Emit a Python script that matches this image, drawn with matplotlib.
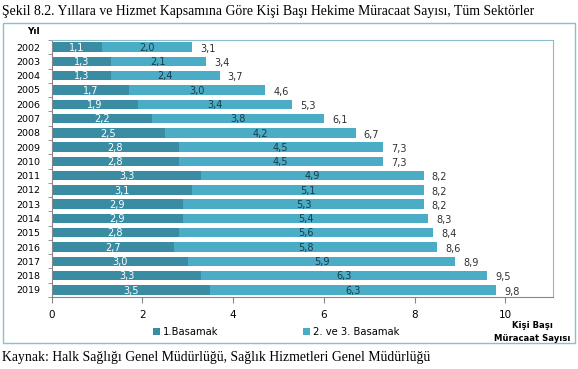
import numpy as np
import matplotlib.pyplot as plt
from matplotlib.patches import Rectangle

years = ['2002', '2003', '2004', '2005', '2006', '2007', '2008', '2009', '2010',
         '2011', '2012', '2013', '2014', '2015', '2016', '2017', '2018', '2019']
basamak1 = [1.1, 1.3, 1.3, 1.7, 1.9, 2.2, 2.5, 2.8, 2.8, 3.3, 3.1, 2.9, 2.9, 2.8, 2.7, 3.0, 3.3, 3.5]
basamak23 = [2.0, 2.1, 2.4, 3.0, 3.4, 3.8, 4.2, 4.5, 4.5, 4.9, 5.1, 5.3, 5.4, 5.6, 5.8, 5.9, 6.3, 6.3]
toplam = [3.1, 3.4, 3.7, 4.6, 5.3, 6.1, 6.7, 7.3, 7.3, 8.2, 8.2, 8.2, 8.3, 8.4, 8.6, 8.9, 9.5, 9.8]
xticks = [0, 2, 4, 6, 8, 10]

dark = '#3A8CA3'
light = '#4BACC6'

def fmt(v):
    return f'{v:.1f}'.replace('.', ',')

fig = plt.figure(figsize=(5.78, 3.69), dpi=100)
W, H = 578, 369

# outer chart frame
fig.patches.append(Rectangle((3 / W, 1 - 343 / H), 572 / W, 320 / H, transform=fig.transFigure,
                             fill=False, edgecolor='#86C0D6', lw=1.0))

ax = fig.add_axes([51.7 / W, 1 - 297 / H, (553 - 51.7) / W, (297 - 40) / H])
y = np.arange(len(years))
b1 = np.array(basamak1)
b2 = np.array(basamak23)
ax.barh(y, b1, height=0.66, color=dark, label='1.Basamak')
ax.barh(y, b2, left=b1, height=0.66, color=light, label='2. ve 3. Basamak')

for i in range(len(years)):
    ax.text(b1[i] / 2, y[i] + 0.05, fmt(basamak1[i]), ha='center', va='center',
            color='white', fontsize=7)
    ax.text(b1[i] + b2[i] / 2, y[i] + 0.05, fmt(basamak23[i]), ha='center', va='center',
            color='#173D4C', fontsize=7)
    ax.text(b1[i] + b2[i] + 0.18, y[i] + 0.12, fmt(toplam[i]), ha='left', va='center',
            color='#303030', fontsize=7)

ax.set_xlim(0, 11.05)
ax.set_ylim(len(years) - 0.5, -0.5)
ax.set_yticks(y)
ax.set_yticklabels(years, fontsize=6.8)
ax.set_yticks(np.arange(len(years) + 1) - 0.5, minor=True)
ax.tick_params(axis='y', which='major', length=0, pad=8)
ax.tick_params(axis='y', which='minor', length=3, color='#868686')
ax.set_xticks(xticks)
ax.set_xticklabels([str(t) for t in xticks], fontsize=7.5)
ax.tick_params(axis='x', length=4, color='#868686', pad=5)

for s in ['top', 'right']:
    ax.spines[s].set_color('#8DBBCC')
for s in ['left', 'bottom']:
    ax.spines[s].set_color('#868686')

fig.text(0.004, 1 - 11 / H, 'Şekil 8.2. Yıllara ve Hizmet Kapsamına Göre Kişi Başı Hekime Müracaat Sayısı, Tüm Sektörler',
         family='Liberation Serif', fontsize=9.9, va='center', ha='left')
fig.text(33 / W, 1 - 32 / H, 'Yıl', fontsize=6.5, weight='bold', va='center', ha='center')
fig.text(532 / W, 1 - 332 / H, 'Kişi Başı\nMüracaat Sayısı', fontsize=6.1, weight='bold',
         va='center', ha='center', linespacing=1.6)
fig.text(0.004, 1 - 357 / H, 'Kaynak: Halk Sağlığı Genel Müdürlüğü, Sağlık Hizmetleri Genel Müdürlüğü',
         family='Liberation Serif', fontsize=9.9, va='center', ha='left')

fig.legend(loc='center', bbox_to_anchor=(276 / W, 1 - 332 / H), ncol=2, frameon=False,
           fontsize=7.2, handlelength=0.7, handleheight=0.7, columnspacing=8.5, handletextpad=0.3)

fig.savefig('out.png', dpi=100)
